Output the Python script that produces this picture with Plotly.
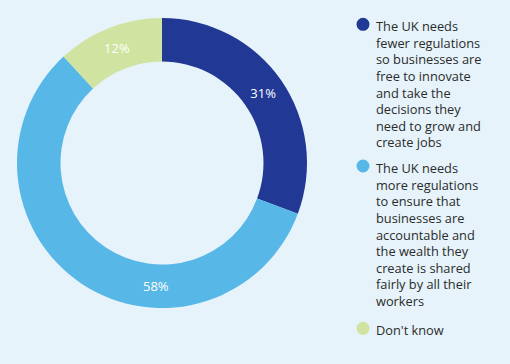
import math
import plotly.graph_objects as go

labels = [
    "The UK needs<br>fewer regulations<br>so businesses are<br>free to innovate<br>and take the<br>decisions they<br>need to grow and<br>create jobs",
    "The UK needs<br>more regulations<br>to ensure that<br>businesses are<br>accountable and<br>the wealth they<br>create is shared<br>fairly by all their<br>workers",
    "Don't know",
]
values = [31, 58, 12]
colors = ["#213894", "#57b7e6", "#d1e3a0"]

W, H = 510, 364
BG = "#e6f3fa"
FONT = "Open Sans"

# pie geometry (pixels)
CX, CY, R = 162, 163, 145
HOLE = 0.70

# the 58% label sits near the bottom of the ring in the reference, not at the slice centre
label_text = ["%d%%" % v for v in values]
slice_text = [label_text[0], "", label_text[2]]

fig = go.Figure()
fig.add_trace(go.Pie(
    labels=labels,
    values=values,
    hole=HOLE,
    sort=False,
    direction="clockwise",
    rotation=0,
    marker=dict(colors=colors, line=dict(width=0)),
    text=slice_text,
    textinfo="text",
    textposition="inside",
    insidetextorientation="horizontal",
    textfont=dict(color="white", size=13, family=FONT),
    showlegend=False,
    hoverinfo="label+value",
    domain=dict(x=[(CX - R) / W, (CX + R) / W], y=[1 - (CY + R) / H, 1 - (CY - R) / H]),
))

ang = math.radians(183)
rmid = R * (1 + HOLE) / 2
fig.add_annotation(
    x=(CX + rmid * math.sin(ang)) / W, y=1 - (CY - rmid * math.cos(ang)) / H,
    xref="paper", yref="paper", xanchor="center", yanchor="middle",
    text=label_text[1], showarrow=False,
    font=dict(color="white", size=13, family=FONT),
)

legend_tops = [16.0, 157.8, 320.1]
legend_centers = [24.3, 166.0, 328.3]
for lab, col, top, cy in zip(labels, colors, legend_tops, legend_centers):
    fig.add_annotation(
        x=375 / W, y=1 - top / H, xref="paper", yref="paper",
        xanchor="left", yanchor="top", align="left",
        text=lab, showarrow=False, borderpad=0,
        font=dict(family=FONT, size=12.8, color="#2b2b2b"),
    )
    fig.add_shape(
        type="circle", xref="paper", yref="paper",
        x0=(363 - 6.5) / W, x1=(363 + 6.5) / W,
        y0=1 - (cy + 6.5) / H, y1=1 - (cy - 6.5) / H,
        fillcolor=col, line=dict(width=0),
    )

fig.update_layout(
    width=W, height=H,
    margin=dict(l=0, r=0, t=0, b=0),
    paper_bgcolor=BG, plot_bgcolor=BG,
    font=dict(family=FONT),
)

fig.write_html(
    "out.html",
    config={"displayModeBar": False},
    post_script="document.body.style.margin='0';document.body.style.padding='0';document.body.style.background='%s';" % BG,
)
